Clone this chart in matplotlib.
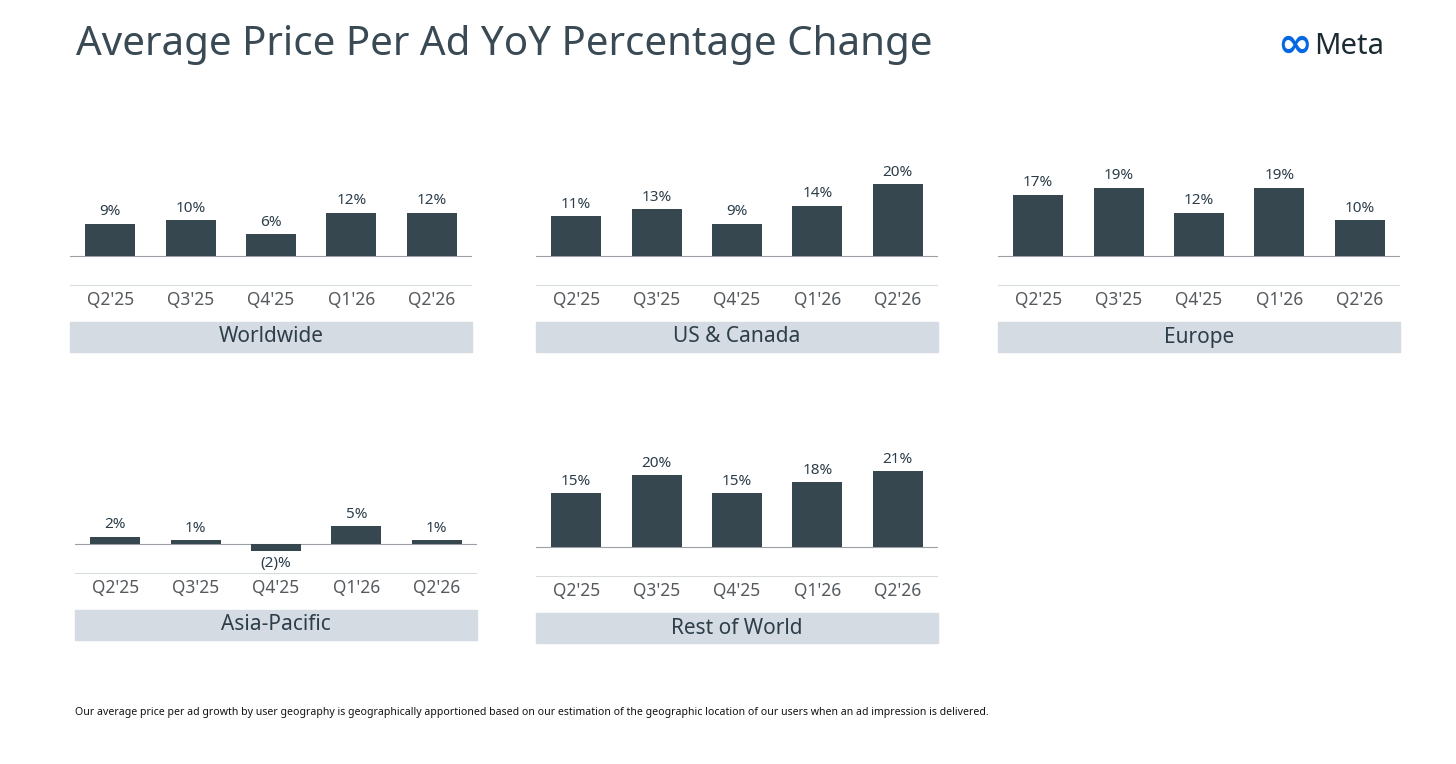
import matplotlib.pyplot as plt
from matplotlib.patches import Rectangle

quarters = ["Q2'25", "Q3'25", "Q4'25", "Q1'26", "Q2'26"]
worldwide = [9, 10, 6, 12, 12]
us_canada = [11, 13, 9, 14, 20]
europe = [17, 19, 12, 19, 10]
asia_pacific = [2, 1, -2, 5, 1]
rest_of_world = [15, 20, 15, 18, 21]

panels = [
    ("Worldwide", worldwide, 70, 256),
    ("US & Canada", us_canada, 536, 256),
    ("Europe", europe, 998, 256),
    ("Asia-Pacific", asia_pacific, 75, 544),
    ("Rest of World", rest_of_world, 536, 547),
]

W, H = 1456, 764
fig = plt.figure(figsize=(W/100, H/100), dpi=100)
fig.patch.set_facecolor("white")
plt.rcParams['font.family'] = ['Noto Sans', 'DejaVu Sans']

BAR = "#36474f"
TXT = "#2d3e4a"
PX = 3.6  # px per percent
YMIN, YMAX = -10, 25
PW = 402

for name, vals, left, base in panels:
    bottom_px = base - YMIN * PX  # pixel y (top origin) of axes bottom
    h = (YMAX - YMIN) * PX
    ax = fig.add_axes([left / W, 1 - bottom_px / H, PW / W, h / H])
    ax.set_xlim(-0.5, 4.5)
    ax.set_ylim(YMIN, YMAX)
    ax.axis("off")
    ax.bar(range(5), vals, width=0.62, color=BAR, zorder=2)
    ax.axhline(0, color="#9aa0a6", lw=0.8, zorder=1)
    ax.axhline(-29 / PX, color="#d8dcdf", lw=0.8)
    for i, v in enumerate(vals):
        if v >= 0:
            ax.text(i, v + 1.2, f"{v}%", ha="center", va="bottom", color=TXT,
                    fontsize=11, fontweight="bold")
        else:
            ax.text(i, v - 1.2, f"({-v})%", ha="center", va="top", color=TXT,
                    fontsize=11, fontweight="bold")
        ax.text(i, -44 / PX, quarters[i], ha="center", va="center", color="#555a5e",
                fontsize=12.5, clip_on=False)
    # title box
    ax.add_patch(Rectangle((-0.5, -96 / PX), 5, 30 / PX, color="#d5dbe2",
                           clip_on=False, zorder=0))
    ax.text(2, -81 / PX, name, ha="center", va="center", color=TXT,
            fontsize=15, fontweight="bold", clip_on=False)

fig.text(76 / W, 1 - 45 / H, "Average Price Per Ad YoY Percentage Change",
         ha="left", va="center", fontsize=29, color="#3a4a55")
fig.text(1312 / W, 1 - 46 / H, "∞", ha="right", va="center", fontsize=30,
         color="#0668E1", fontweight="bold")
fig.text(1314 / W, 1 - 47 / H, "Meta", ha="left", va="center", fontsize=21,
         color="#1c2b33")
fig.text(75 / W, 1 - 712 / H,
         "Our average price per ad growth by user geography is geographically apportioned based on our estimation of the geographic location of our users when an ad impression is delivered.",
         ha="left", va="center", fontsize=7.6, color="#111111")

fig.savefig("out.png", dpi=100)
